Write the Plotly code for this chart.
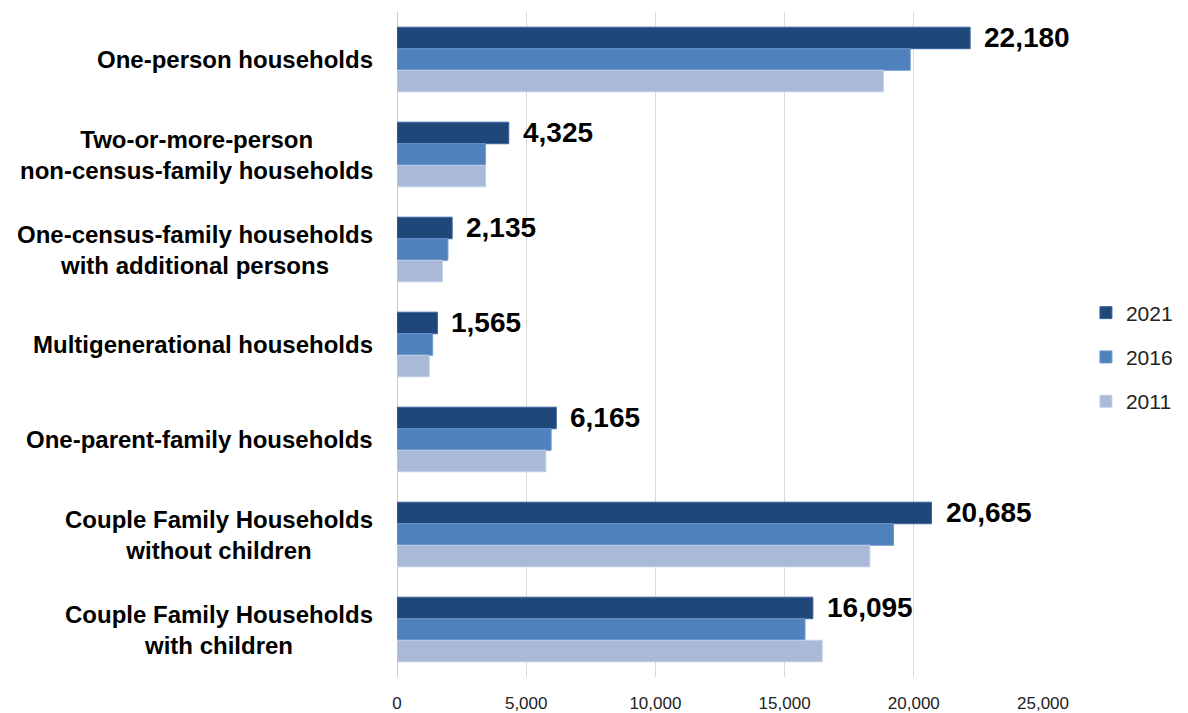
import plotly.graph_objects as go

categories = [
    "One-person households",
    "Two-or-more-person<br>non-census-family households",
    "One-census-family households<br>with additional persons",
    "Multigenerational households",
    "One-parent-family households",
    "Couple Family Households<br>without children",
    "Couple Family Households<br>with children",
]
cat_ids = ["c1", "c2", "c3", "c4", "c5", "c6", "c7"]
v2021 = [22180, 4325, 2135, 1565, 6165, 20685, 16095]
v2016 = [19860, 3420, 1970, 1380, 5965, 19215, 15790]
v2011 = [18825, 3430, 1760, 1250, 5760, 18300, 16455]
years = ["2021", "2016", "2011"]
colors = ["#1F477A", "#4F81BD", "#AAB9D8"]
line_colors = ["#3A66A0", "#6E98CC", "#C3CFE6"]
xticks = [0, 5000, 10000, 15000, 20000, 25000]

fig = go.Figure()
for name, vals, c, lc in zip(years, [v2021, v2016, v2011], colors, line_colors):
    fig.add_trace(go.Bar(
        y=cat_ids, x=vals, name=name, orientation="h", legendgroup=name,
        marker=dict(color=c, line=dict(color=lc, width=1)),
    ))

annotations = []
for cid, lab in zip(cat_ids, categories):
    annotations.append(dict(
        x=0, y=cid, xref="x", yref="y", text="<b>" + lab + "</b>",
        showarrow=False, xanchor="right", yanchor="middle", align="center",
        xshift=-22, font=dict(family="Liberation Sans, Arial", size=24, color="#000000"),
    ))
for cid, v in zip(cat_ids, v2021):
    annotations.append(dict(
        x=v, y=cid, xref="x", yref="y", text="<b>{:,}</b>".format(v),
        showarrow=False, xanchor="left", yanchor="middle",
        xshift=12, yshift=22,
        font=dict(family="Liberation Sans, Arial", size=28, color="#000000"),
    ))

fig.update_layout(
    width=1180, height=705,
    barmode="group", bargap=0.32, bargroupgap=0,
    paper_bgcolor="white", plot_bgcolor="white",
    margin=dict(l=389, r=145, t=4, b=36, autoexpand=False),
    annotations=annotations,
    legend=dict(
        xref="container", yref="container",
        x=0.9135, y=0.505, xanchor="left", yanchor="middle",
        font=dict(family="Liberation Sans, Arial", size=21, color="#222222"),
        itemwidth=30, tracegroupgap=14,
    ),
    xaxis=dict(
        range=[0, 25000], tickvals=xticks,
        ticktext=["{:,}".format(t) for t in xticks],
        showgrid=True, gridcolor="#D9D9D9", gridwidth=1,
        zeroline=True, zerolinecolor="#CCCCCC", zerolinewidth=1,
        showline=False, ticks="outside", tickcolor="rgba(0,0,0,0)", ticklen=11,
        tickfont=dict(family="Liberation Sans Narrow, Liberation Sans, Arial", size=17, color="#222222"),
    ),
    yaxis=dict(
        autorange="reversed", showticklabels=False, showgrid=False,
        categoryorder="array", categoryarray=cat_ids,
    ),
)

fig.write_html("out.html")
